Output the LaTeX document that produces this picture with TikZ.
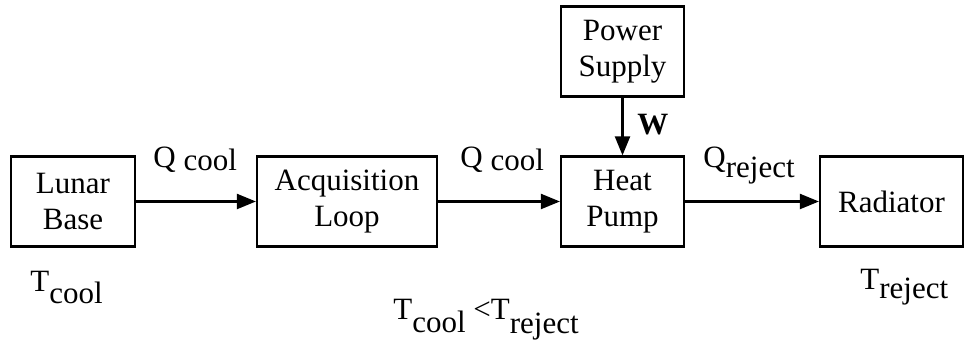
\documentclass[tikz,border=0pt]{standalone}
\usepackage{fontspec}
\setmainfont{Liberation Serif}
\usetikzlibrary{arrows.meta}

\newcommand{\lowered}[2][2pt]{\raisebox{-#1}{#2}}

\begin{document}
\begin{tikzpicture}[x=0.5pt,y=-0.5pt,
  blk/.style={draw, line width=1.1pt, inner sep=0pt, minimum height=45pt, align=center,
    font=\fontsize{15.5}{18}\selectfont},
  lbl/.style={anchor=base west, inner sep=0pt, font=\fontsize{15.5}{18}\selectfont},
  flow/.style={line width=1.1pt, -{Triangle[length=9.5pt,width=7.5pt]}}]
\useasboundingbox (0,0) rectangle (964,346);

% Boxes
\node[blk, minimum width=62pt] (base) at (73,201.5) {Lunar\\Base};
\node[blk, minimum width=90pt] (acq) at (347,201.5) {Acquisition\\Loop};
\node[blk, minimum width=61.5pt] (pump) at (622.5,201.5) {Heat\\Pump};
\node[blk, minimum width=61.5pt] (power) at (622.5,51.5) {Power\\Supply};
\node[blk, minimum width=71.5pt] (rad) at (891.5,201.5) {Radiator};

% Flows
\draw[flow] (base) -- (acq);
\draw[flow] (acq) -- (pump);
\draw[flow] (pump) -- (rad);
\draw[flow] (power) -- (pump);

% Labels
\node[lbl] (qbase) at (153,168) {Q\ \lowered[1.2pt]{cool}};
\node[lbl] (qacq) at (460,168) {Q\ \lowered[1.2pt]{cool}};
\node[lbl] (work) at (637,135) {\textbf{W}};
\node[lbl] (qrej) at (703,168) {Q\lowered[5pt]{reject}};
\node[lbl] (tcool) at (30,292) {T\lowered[6pt]{cool}};
\node[lbl] (trej) at (860,290) {T\lowered[4.5pt]{reject}};
\node[lbl] (tineq) at (393,320) {T\lowered[6.5pt]{cool} {<}T\lowered[7pt]{reject}};

\end{tikzpicture}
\end{document}
